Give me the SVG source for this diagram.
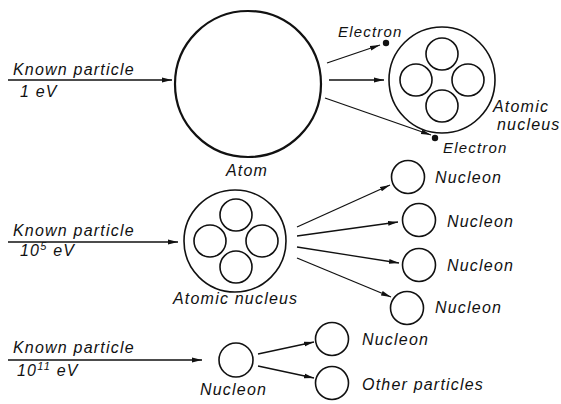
<svg xmlns="http://www.w3.org/2000/svg" width="561" height="404" viewBox="0 0 561 404">
<style>
.t{font-family:"Liberation Sans",Arial,sans-serif;font-style:italic;font-size:16px;letter-spacing:1.2px;fill:#111}
.c{fill:none;stroke:#111;stroke-width:1.6}
.b{fill:none;stroke:#111;stroke-width:2.2}
.l{fill:none;stroke:#111;stroke-width:1.3;marker-end:url(#ah)}
.p{fill:none;stroke:#111;stroke-width:1.3}
</style>
<defs>
<marker id="ah" markerWidth="11" markerHeight="6" refX="10" refY="3" orient="auto" markerUnits="userSpaceOnUse">
<path d="M0,0.6 L10,3 L0,5.4 z" fill="#111"/>
</marker>
<g id="nuc4">
<circle class="c" cx="0" cy="-26" r="16"/>
<circle class="c" cx="-26" cy="0" r="16"/>
<circle class="c" cx="26" cy="0" r="16"/>
<circle class="c" cx="0" cy="26" r="16"/>
</g>
</defs>

<g id="connectors">
<line class="p" x1="8" y1="80" x2="172" y2="80" marker-end="url(#ah)"/>
<line class="l" x1="327" y1="63" x2="380" y2="45"/>
<line class="l" x1="329" y1="80" x2="384" y2="80"/>
<line class="l" x1="325" y1="98" x2="431" y2="135"/>
<line class="p" x1="8" y1="242" x2="178" y2="242" marker-end="url(#ah)"/>
<line class="l" x1="297" y1="227" x2="390" y2="185"/>
<line class="l" x1="297" y1="236" x2="398" y2="222"/>
<line class="l" x1="297" y1="247" x2="399" y2="263"/>
<line class="l" x1="297" y1="258" x2="391" y2="297"/>
<line class="p" x1="8" y1="360" x2="202" y2="360" marker-end="url(#ah)"/>
<line class="l" x1="258" y1="354" x2="314" y2="342"/>
<line class="l" x1="258" y1="366" x2="314" y2="378"/>
</g>

<g id="input1">
<text class="t" x="13" y="75">Known particle</text>
<text class="t" x="20" y="97">1 eV</text>
</g>
<g id="atom">
<circle class="b" cx="248" cy="84" r="73"/>
<text class="t" x="226" y="176">Atom</text>
</g>
<g id="electron1">
<circle cx="386" cy="43" r="3.2" fill="#111"/>
<text class="t" x="338" y="37" style="font-size:15px">Electron</text>
</g>
<g id="nucleus1">
<circle class="c" cx="442" cy="80" r="53"/>
<use href="#nuc4" x="442" y="80"/>
<text class="t" x="493" y="112">Atomic</text>
<text class="t" x="497" y="130">nucleus</text>
</g>
<g id="electron2">
<circle cx="435" cy="138" r="3.2" fill="#111"/>
<text class="t" x="443" y="153" style="font-size:15px">Electron</text>
</g>

<g id="input2">
<text class="t" x="13" y="236">Known particle</text>
<text class="t" x="20" y="256">10<tspan dy="-6" style="font-size:11px">5</tspan><tspan dy="6"> eV</tspan></text>
</g>
<g id="nucleus2">
<circle class="c" cx="235" cy="241" r="51"/>
<use href="#nuc4" x="236" y="241"/>
<text class="t" x="173" y="304">Atomic nucleus</text>
</g>
<g id="nucleonA">
<circle class="c" cx="408" cy="177" r="16.5"/>
<text class="t" x="435" y="183">Nucleon</text>
</g>
<g id="nucleonB">
<circle class="c" cx="419" cy="220" r="16.5"/>
<text class="t" x="447" y="227">Nucleon</text>
</g>
<g id="nucleonC">
<circle class="c" cx="419" cy="265" r="16.5"/>
<text class="t" x="447" y="271">Nucleon</text>
</g>
<g id="nucleonD">
<circle class="c" cx="407" cy="308" r="16.5"/>
<text class="t" x="435" y="313">Nucleon</text>
</g>

<g id="input3">
<text class="t" x="13" y="353">Known particle</text>
<text class="t" x="17" y="376">10<tspan dy="-6" style="font-size:11px">11</tspan><tspan dy="6"> eV</tspan></text>
</g>
<g id="nucleon3">
<circle class="c" cx="236" cy="360" r="17"/>
<text class="t" x="200" y="395">Nucleon</text>
</g>
<g id="nucleonE">
<circle class="c" cx="332" cy="339" r="16.5"/>
<text class="t" x="362" y="345">Nucleon</text>
</g>
<g id="others">
<circle class="c" cx="332" cy="383" r="16.5"/>
<text class="t" x="362" y="390">Other particles</text>
</g>
</svg>
